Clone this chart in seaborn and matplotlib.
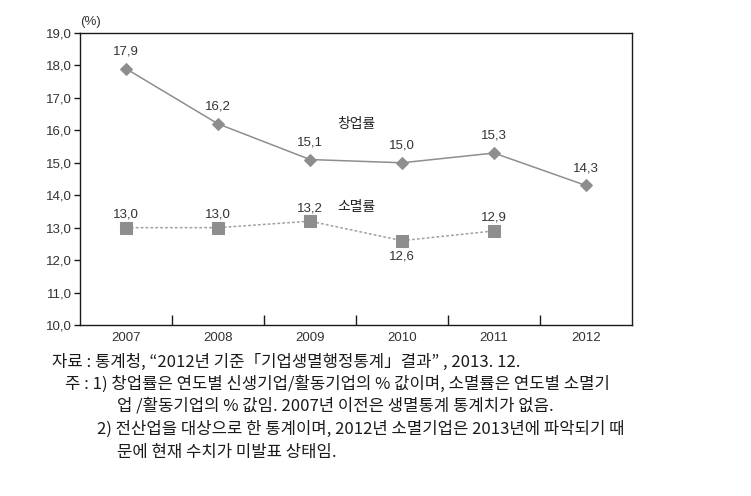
import matplotlib
matplotlib.use("Agg")
import matplotlib.pyplot as plt
import seaborn as sns
import pandas as pd
from matplotlib.ticker import FuncFormatter, FixedLocator

years = ["2007", "2008", "2009", "2010", "2011", "2012"]
startup_rate = [17.9, 16.2, 15.1, 15.0, 15.3, 14.3]
exit_years = ["2007", "2008", "2009", "2010", "2011"]
exit_rate = [13.0, 13.0, 13.2, 12.6, 12.9]
startup_name = "창업률"
exit_name = "소멸률"
y_ticks = [10.0, 11.0, 12.0, 13.0, 14.0, 15.0, 16.0, 17.0, 18.0, 19.0]
notes = [
    "자료 : 통계청, “2012년 기준「기업생멸행정통계」결과” , 2013. 12.",
    "주 : 1) 창업률은 연도별 신생기업/활동기업의 % 값이며, 소멸률은 연도별 소멸기",
    "업 /활동기업의 % 값임. 2007년 이전은 생멸통계 통계치가 없음.",
    "2) 전산업을 대상으로 한 통계이며, 2012년 소멸기업은 2013년에 파악되기 때",
    "문에 현재 수치가 미발표 상태임.",
]

sns.set_theme(style="white")
plt.rcParams["font.family"] = ["Liberation Sans", "Noto Sans CJK KR", "DejaVu Sans"]

W, H = 751, 496
fig = plt.figure(figsize=(W / 100, H / 100), dpi=100)
ax = fig.add_axes([80 / W, 1 - 325 / H, (632 - 80) / W, (325 - 33) / H])

df1 = pd.DataFrame({"year": years, "rate": startup_rate})
df2 = pd.DataFrame({"year": exit_years, "rate": exit_rate})

line_col = "#8e8e8e"
sns.lineplot(data=df1, x="year", y="rate", ax=ax, color=line_col, lw=1.1,
             marker="D", markersize=6, markeredgecolor=line_col, markerfacecolor=line_col)
sns.lineplot(data=df2, x="year", y="rate", ax=ax, color="#a0a0a0", lw=1.1,
             linestyle=(0, (1.8, 1.4)), marker="s", markersize=8.5,
             markeredgecolor=line_col, markerfacecolor=line_col)

ax.set_xlim(-0.5, 5.5)
ax.set_ylim(10, 19)
ax.set_yticks(y_ticks)
ax.yaxis.set_major_formatter(FuncFormatter(lambda v, p: f"{v:.1f}".replace(".", ",")))
ax.set_xlabel("")
ax.set_ylabel("")

for s in ax.spines.values():
    s.set_color("#1a1a1a")
    s.set_linewidth(1.0)

fs = 9.5
ax.tick_params(axis="y", which="major", direction="out", length=4, width=1,
               color="#1a1a1a", labelsize=fs, labelcolor="#333333", pad=2, left=True)
ax.tick_params(axis="x", which="major", length=0, labelsize=fs,
               labelcolor="#333333", pad=5)
ax.xaxis.set_minor_locator(FixedLocator([0.5, 1.5, 2.5, 3.5, 4.5]))
ax.tick_params(axis="x", which="minor", direction="in", length=7, width=1,
               color="#1a1a1a", bottom=True)

# data labels
for i, v in enumerate(startup_rate):
    ax.annotate(f"{v:.1f}".replace(".", ","), (years[i], v), xytext=(0, 8),
                textcoords="offset points", ha="center", va="bottom",
                fontsize=fs, color="#333333")
for i, v in enumerate(exit_rate):
    below = v < 12.8
    ax.annotate(f"{v:.1f}".replace(".", ","), (exit_years[i], v),
                xytext=(0, -7 if below else 5), textcoords="offset points",
                ha="center", va="top" if below else "bottom",
                fontsize=fs, color="#333333")

ax.text(2.5, 16.2, startup_name, ha="center", va="center", fontsize=10,
        color="#222222", family=["Noto Sans CJK KR"])
ax.text(2.5, 13.65, exit_name, ha="center", va="center", fontsize=10,
        color="#222222", family=["Noto Sans CJK KR"])

fig.text(80 / W, 1 - 22 / H, "(%)", ha="left", va="center", fontsize=fs, color="#333333")

note_pos = [(52, 362), (65, 384), (117, 406), (97, 429), (117, 452)]
for (x, y), t in zip(note_pos, notes):
    fig.text(x / W, 1 - y / H, t, ha="left", va="center", fontsize=12,
             color="#1a1a1a", family=["Noto Sans CJK KR", "DejaVu Sans"])

fig.savefig("out.png", dpi=100)
